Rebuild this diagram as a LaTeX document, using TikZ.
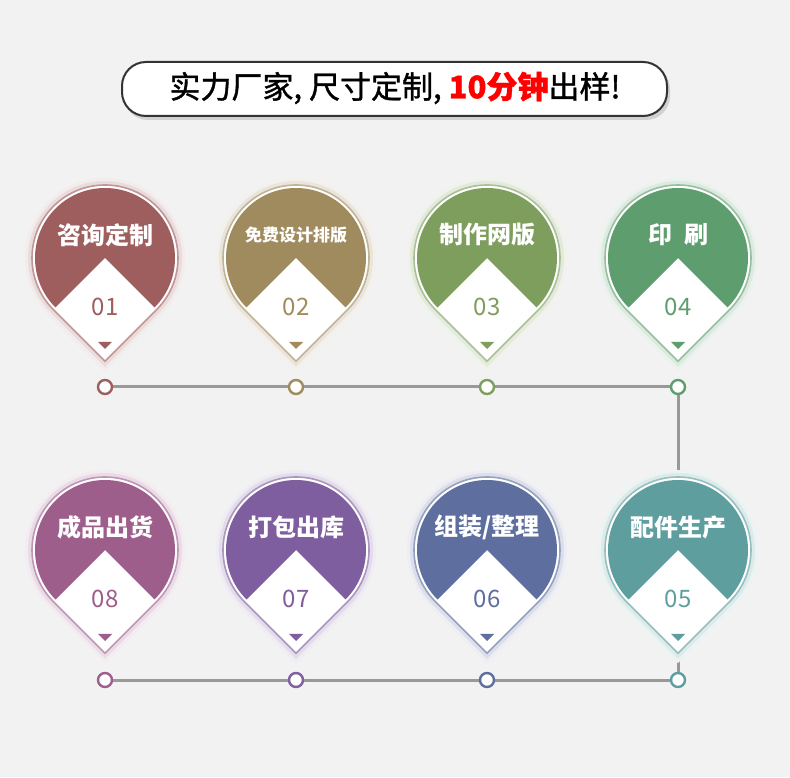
\documentclass[tikz,border=0pt]{standalone}
\usepackage{fontspec}
\setmainfont{Noto Sans CJK SC}
\newfontfamily\titlefont{Noto Sans CJK SC}[FakeBold=1.2]
\usetikzlibrary{backgrounds}
\definecolor{bgGray}{RGB}{242,242,242}
\definecolor{lineGray}{RGB}{153,153,153}
\definecolor{headRed}{RGB}{255,0,0}
\definecolor{pinA}{RGB}{158,94,94}
\definecolor{pinB}{RGB}{160,139,94}
\definecolor{pinC}{RGB}{126,158,94}
\definecolor{pinD}{RGB}{94,158,110}
\definecolor{pinE}{RGB}{94,158,158}
\definecolor{pinF}{RGB}{94,110,158}
\definecolor{pinG}{RGB}{126,94,158}
\definecolor{pinH}{RGB}{158,94,140}
\tikzset{
  dotmark/.style={circle, draw=#1, line width=2.4pt, fill=white, minimum size=14pt, inner sep=0pt},
  conn/.style={lineGray, line width=3pt},
  titletext/.style={font=\titlefont\fontsize{31}{31}\selectfont, inner sep=0pt},
}

\begin{document}
\begin{tikzpicture}[x=1pt, y=1pt]
  \useasboundingbox (0,0) rectangle (790,777);

  % header
  \fill[black!18, rounded corners=24pt] (124,657) rectangle (670,712);
  \draw[black!80, line width=2pt, fill=white, rounded corners=24pt] (122,661) rectangle (667,715);
  \node[titletext] (title) at (395,689) {实力厂家,\hspace{7pt}尺寸定制,\hspace{7pt}{\color{headRed}\bfseries 10分钟}出样!};

  % pins
  \foreach \i/\px/\py/\col/\lab/\fs in {
      1/105/519/pinA/咨询定制/24,
      2/296/519/pinB/免费设计排版/17,
      3/487/519/pinC/制作网版/24,
      4/678/519/pinD/{印\hspace{0.5em}刷}/24,
      5/678/227/pinE/配件生产/24,
      6/487/227/pinF/{组装/整理}/24,
      7/296/227/pinG/打包出库/24,
      8/105/227/pinH/成品出货/24}
  {
    \begin{scope}[shift={(\px,\py)}]
      % soft glow
      \fill[\col!12] (0,-113.1) -- (-45:80) arc[start angle=-45, end angle=225, radius=80] -- cycle;
      \fill[\col!22] (0,-108.9) -- (-45:77) arc[start angle=-45, end angle=225, radius=77] -- cycle;
      % outline
      \draw[\col!65, line width=1.6pt, fill=white] (0,-103.2) -- (-45:73) arc[start angle=-45, end angle=225, radius=73] -- cycle;
      % cap above the mountain
      \begin{scope}
        \clip (0,0) -- (-80,-80) -- (-80,80) -- (80,80) -- (80,-80) -- cycle;
        \fill[\col] (0,0) circle (70);
      \end{scope}
      \node[text=white, font=\bfseries\fontsize{\fs}{\fs}\selectfont] (lab\i) at (0,23) {\lab};
      \node[text=\col, font=\fontsize{24}{24}\selectfont] (num\i) at (0,-49) {0\i};
      \fill[\col] (-7,-84) -- (7,-84) -- (0,-91) -- cycle;
    \end{scope}
  }

  % dots
  \foreach \i/\px/\py/\col in {1/105/390/pinA, 2/296/390/pinB, 3/487/390/pinC, 4/678/390/pinD,
      5/678/97/pinE, 6/487/97/pinF, 7/296/97/pinG, 8/105/97/pinH}
    \node[dotmark=\col] (dot\i) at (\px,\py) {};

  \begin{scope}[on background layer]
    \fill[bgGray] (0,0) rectangle (790,777);
    \draw[conn] (dot1) -- (dot2) -- (dot3) -- (dot4) -- (dot5) -- (dot6) -- (dot7) -- (dot8);
  \end{scope}
\end{tikzpicture}
\end{document}
